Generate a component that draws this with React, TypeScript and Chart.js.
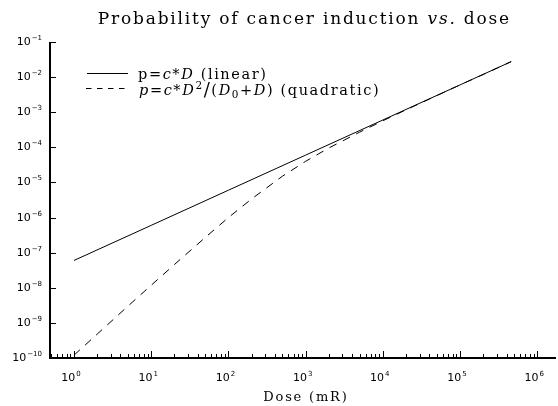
import React, { useEffect, useRef } from "react";
import { Chart, registerables } from "chart.js";

Chart.register(...registerables);

// ---- data ----
const doseLinear = [1, 10, 100, 1000, 10000, 100000, 460000];
const probLinear = [6.0e-8, 6.0e-7, 6.0e-6, 6.0e-5, 6.0e-4, 6.0e-3, 2.76e-2];

const doseQuad = [1, 2, 5, 10, 20, 50, 100, 200, 500, 1000, 2000, 5000, 1e4, 2e4, 5e4, 1e5, 2e5, 4.6e5];
const probQuad = [
  1.2e-10, 4.8e-10, 3.0e-9, 1.18e-8, 4.6e-8, 2.7e-7, 1.0e-6, 3.4e-6, 1.5e-5, 4.0e-5, 9.6e-5, 2.7e-4,
  5.7e-4, 1.17e-3, 2.97e-3, 6.0e-3, 1.19e-2, 2.76e-2,
];

const xMajorTicks = [1, 10, 100, 1e3, 1e4, 1e5, 1e6];
const xTickExponents = ["0", "1", "2", "3", "4", "5", "6"];
const yMajorTicks = [1e-10, 1e-9, 1e-8, 1e-7, 1e-6, 1e-5, 1e-4, 1e-3, 1e-2, 1e-1];
const yTickExponents = ["\u221210", "\u22129", "\u22128", "\u22127", "\u22126", "\u22125", "\u22124", "\u22123", "\u22122", "\u22121"];

const xMin = 0.489;
const xMax = 1.75e6;
const yMin = 1e-10;
const yMax = 1e-1;

type Seg = { t: string; i?: boolean; sup?: boolean; sub?: boolean; scale?: number };

const titleSegs: Seg[] = [
  { t: "Probability of cancer induction " },
  { t: "vs.", i: true },
  { t: " dose" },
];
const legendLinear: Seg[] = [
  { t: "p=" }, { t: "c", i: true }, { t: "*" }, { t: "D", i: true }, { t: " (linear)" },
];
const legendQuad: Seg[] = [
  { t: "p", i: true }, { t: "=" }, { t: "c", i: true }, { t: "*" }, { t: "D", i: true }, { t: "2", sup: true },
  { t: "/", scale: 1.25 }, { t: "(" }, { t: "D", i: true }, { t: "0", sub: true }, { t: "+" }, { t: "D", i: true },
  { t: ")" }, { t: " (quadratic)" },
];
const xTitleSegs: Seg[] = [{ t: "Dose (mR)" }];

const SERIF = "'DejaVu Serif', serif";
const SANS = "'DejaVu Sans', 'Liberation Sans', sans-serif";

function segFont(s: Seg, base: number) {
  const size = s.sup || s.sub ? base * 0.72 : base * (s.scale ?? 1);
  return `${s.i ? "italic " : ""}${size}px ${SERIF}`;
}
function richWidth(ctx: CanvasRenderingContext2D, segs: Seg[], base: number, sp: number) {
  let w = 0;
  for (const s of segs) {
    ctx.font = segFont(s, base);
    for (const ch of s.t) w += ctx.measureText(ch).width + sp;
  }
  return w - sp;
}
function drawRich(ctx: CanvasRenderingContext2D, x: number, y: number, segs: Seg[], base: number, sp: number) {
  let cx = x;
  ctx.textBaseline = "alphabetic";
  ctx.textAlign = "left";
  for (const s of segs) {
    ctx.font = segFont(s, base);
    const dy = s.sup ? -base * 0.38 : s.sub ? base * 0.2 : s.scale ? base * 0.1 : 0;
    for (const ch of s.t) {
      ctx.fillText(ch, cx, y + dy);
      cx += ctx.measureText(ch).width + sp;
    }
  }
}

function drawPower(ctx: CanvasRenderingContext2D, exp: string, x: number, cy: number, align: "right" | "center") {
  ctx.textBaseline = "middle";
  ctx.textAlign = "left";
  ctx.font = `11px ${SANS}`;
  const wb = ctx.measureText("10").width;
  ctx.font = `7px ${SANS}`;
  const we = ctx.measureText(exp).width;
  const total = wb + 1 + we;
  const start = align === "right" ? x - total : x - total / 2;
  ctx.font = `11px ${SANS}`;
  ctx.fillText("10", start, cy);
  ctx.font = `7px ${SANS}`;
  ctx.fillText(exp, start + wb + 1, cy - 4);
}

const decorPlugin = {
  id: "decor",
  afterDraw(chart: any) {
    const ctx: CanvasRenderingContext2D = chart.ctx;
    const xs = chart.scales.x;
    const ys = chart.scales.y;
    const { left, right, top, bottom } = chart.chartArea;
    ctx.save();
    ctx.fillStyle = "#000";
    ctx.strokeStyle = "#000";

    // axes
    ctx.lineWidth = 2;
    ctx.beginPath();
    ctx.moveTo(left, top);
    ctx.lineTo(left, bottom);
    ctx.lineTo(right, bottom);
    ctx.stroke();

    // y ticks (inward) and labels
    ctx.lineWidth = 1;
    yMajorTicks.forEach((v, k) => {
      const py = Math.round(ys.getPixelForValue(v)) + 0.5;
      ctx.beginPath();
      ctx.moveTo(left, py);
      ctx.lineTo(left + 6, py);
      ctx.stroke();
      drawPower(ctx, yTickExponents[k], left - 8, py, "right");
    });

    // x ticks: majors and minors (inward)
    const lo = Math.floor(Math.log10(xMin));
    const hi = Math.ceil(Math.log10(xMax));
    for (let e = lo; e <= hi; e++) {
      for (let m = 1; m <= 9; m++) {
        const v = m * Math.pow(10, e);
        if (v < xMin || v > xMax) continue;
        const px = Math.round(xs.getPixelForValue(v)) + 0.5;
        ctx.beginPath();
        ctx.moveTo(px, bottom);
        ctx.lineTo(px, bottom - (m === 1 ? 7 : 4));
        ctx.stroke();
      }
    }
    xMajorTicks.forEach((v, k) => {
      const px = xs.getPixelForValue(v);
      drawPower(ctx, xTickExponents[k], px - 3, bottom + 20, "center");
    });

    // title
    const tsize = 17;
    const tsp = 1.8;
    const tw = richWidth(ctx, titleSegs, tsize, tsp);
    drawRich(ctx, 303.5 - tw / 2, 24, titleSegs, tsize, tsp);

    // x axis title
    const asize = 13;
    const asp = 1.8;
    const aw = richWidth(ctx, xTitleSegs, asize, asp);
    drawRich(ctx, 305 - aw / 2, 401, xTitleSegs, asize, asp);

    // legend
    ctx.lineWidth = 1;
    ctx.beginPath();
    ctx.moveTo(87, 73.5);
    ctx.lineTo(128, 73.5);
    ctx.stroke();
    ctx.setLineDash([5.5, 5.5]);
    ctx.beginPath();
    ctx.moveTo(86, 88.5);
    ctx.lineTo(130, 88.5);
    ctx.stroke();
    ctx.setLineDash([]);
    drawRich(ctx, 138, 79, legendLinear, 14.5, 1.6);
    drawRich(ctx, 139, 95, legendQuad, 14.5, 1.6);

    ctx.restore();
  },
};

export default function App() {
  const ref = useRef<HTMLCanvasElement | null>(null);
  useEffect(() => {
    document.body.style.margin = "0";
    const canvas = ref.current!;
    const chart = new Chart(canvas, {
      type: "scatter",
      data: {
        datasets: [
          {
            label: "linear",
            data: doseLinear.map((d, i) => ({ x: d, y: probLinear[i] })),
            showLine: true,
            borderColor: "#000",
            borderWidth: 1,
            pointRadius: 0,
            fill: false,
            tension: 0,
          },
          {
            label: "quadratic",
            data: doseQuad.map((d, i) => ({ x: d, y: probQuad[i] })),
            showLine: true,
            borderColor: "#000",
            borderWidth: 1,
            borderDash: [8, 7],
            pointRadius: 0,
            fill: false,
            tension: 0,
          },
        ],
      },
      options: {
        responsive: false,
        animation: false,
        devicePixelRatio: 1,
        layout: { padding: { top: 42, right: 2, left: 0, bottom: 0 } },
        plugins: {
          legend: { display: false },
          title: { display: false },
          tooltip: { enabled: false },
        },
        scales: {
          x: {
            type: "logarithmic",
            min: xMin,
            max: xMax,
            grid: { display: false },
            border: { display: false },
            ticks: { display: false },
            afterBuildTicks: (s: any) => {
              s.ticks = xMajorTicks.map((v) => ({ value: v }));
            },
            afterFit: (s: any) => {
              s.height = 48;
            },
          },
          y: {
            type: "logarithmic",
            min: yMin,
            max: yMax,
            grid: { display: false },
            border: { display: false },
            ticks: { display: false },
            afterBuildTicks: (s: any) => {
              s.ticks = yMajorTicks.map((v) => ({ value: v }));
            },
            afterFit: (s: any) => {
              s.width = 50;
            },
          },
        },
      } as any,
      plugins: [decorPlugin],
    });
    return () => chart.destroy();
  }, []);
  return (
    <div style={{ position: "absolute", left: 0, top: 0, width: 558, height: 406, background: "#fff" }}>
      <canvas ref={ref} width={558} height={406} style={{ display: "block" }} />
    </div>
  );
}
